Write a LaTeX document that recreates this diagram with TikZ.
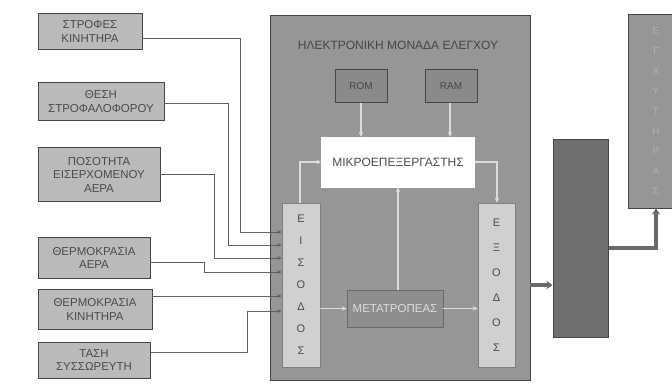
\documentclass[tikz,border=0pt]{standalone}
\usepackage{fontspec}
\setmainfont{Liberation Sans}
\usetikzlibrary{arrows.meta}
\definecolor{boxfill}{RGB}{186,186,186}
\definecolor{ecufill}{RGB}{150,150,150}
\definecolor{iofill}{RGB}{208,208,208}
\definecolor{darkfill}{RGB}{112,112,112}
\definecolor{edge}{RGB}{70,70,70}
\definecolor{txt}{RGB}{75,75,75}
\definecolor{wire}{RGB}{95,95,95}
\definecolor{lightw}{RGB}{220,220,220}
\definecolor{thick}{RGB}{105,105,105}
\begin{document}
\begin{tikzpicture}[x=1pt,y=-1pt,
  sensor/.style={draw=edge, line width=0.8pt, fill=boxfill, text=txt,
    font=\fontsize{11.5}{13.5}\selectfont, align=center, inner sep=0pt},
  ecu/.style={draw=edge, line width=0.8pt, fill=ecufill, inner sep=0pt},
  membox/.style={draw=edge, line width=0.8pt, fill=ecufill!92!black, text=edge,
    font=\fontsize{10}{12}\selectfont, inner sep=0pt},
  cpu/.style={fill=white, draw=white, text=txt, font=\fontsize{12}{14}\selectfont, inner sep=0pt},
  iobox/.style={fill=iofill, draw=edge!70, line width=0.5pt, text=txt, align=center, inner sep=0pt},
  convbox/.style={fill=ecufill!95!black, draw=edge!80, line width=0.6pt, text=lightw,
    font=\fontsize{11.5}{13}\selectfont, inner sep=0pt},
  darkbox/.style={draw=edge, line width=1pt, fill=darkfill, inner sep=0pt},
  actbox/.style={draw=edge, line width=1pt, fill=ecufill, text=lightw!80!black, align=center, inner sep=0pt,
    font=\fontsize{10}{20}\selectfont},
  wire/.style={draw=wire, line width=0.7pt, -{Stealth[length=4.5pt,width=3.5pt]}},
  inner/.style={draw=lightw, line width=1.3pt, -{Stealth[length=5pt,width=4.5pt]}},
  heavy/.style={draw=thick, line width=3.5pt, -{Stealth[length=6pt,width=8.5pt]}}
]
\clip (0,0) rectangle (672,385);
\fill[white] (0,0) rectangle (672,385);

% sensors
\node[sensor, minimum width=104pt, minimum height=36pt] (s1) at (90,31.5) {ΣΤΡΟΦΕΣ\\ΚΙΝΗΤΗΡΑ};
\node[sensor, minimum width=126pt, minimum height=38pt] (s2) at (101,101.5) {ΘΕΣΗ\\ΣΤΡΟΦΑΛΟΦΟΡΟΥ};
\node[sensor, minimum width=122pt, minimum height=54pt] (s3) at (99,174.5) {ΠΟΣΟΤΗΤΑ\\ΕΙΣΕΡΧΟΜΕΝΟΥ\\ΑΕΡΑ};
\node[sensor, minimum width=112pt, minimum height=41pt] (s4) at (94,258) {ΘΕΡΜΟΚΡΑΣΙΑ\\ΑΕΡΑ};
\node[sensor, minimum width=114pt, minimum height=40pt] (s5) at (95,309.5) {ΘΕΡΜΟΚΡΑΣΙΑ\\ΚΙΝΗΤΗΡΑ};
\node[sensor, minimum width=112pt, minimum height=36pt] (s6) at (94,360) {ΤΑΣΗ\\ΣΥΣΣΩΡΕΥΤΗ};

% ECU
\node[ecu, minimum width=260pt, minimum height=365pt] (ecu) at (400,197.5) {};
\node[text=edge, font=\fontsize{12}{14}\selectfont] (ttl) at (398,45) {ΗΛΕΚΤΡΟΝΙΚΗ ΜΟΝΑΔΑ ΕΛΕΓΧΟΥ};
\node[membox, minimum width=52pt, minimum height=33pt] (rom) at (361,86) {ROM};
\node[membox, minimum width=52pt, minimum height=33pt] (ram) at (451,86) {RAM};
\node[cpu, minimum width=153pt, minimum height=50pt] (cpu) at (398,162) {ΜΙΚΡΟΕΠΕΞΕΡΓΑΣΤΗΣ};
\node[iobox, minimum width=38pt, minimum height=164pt, font=\fontsize{11}{22}\selectfont] (in) at (301,285) {Ε\\Ι\\Σ\\Ο\\Δ\\Ο\\Σ};
\node[iobox, minimum width=37pt, minimum height=164pt, font=\fontsize{11}{25}\selectfont] (out) at (496.5,285) {Ε\\Ξ\\Ο\\Δ\\Ο\\Σ};
\node[convbox, minimum width=96pt, minimum height=37pt] (conv) at (395,308.5) {ΜΕΤΑΤΡΟΠΕΑΣ};

% right side
\node[darkbox, minimum width=55pt, minimum height=197pt] (amp) at (580.5,238.5) {};
\node[actbox, minimum width=56pt, minimum height=193pt] (act) at (656,111.5) {Ε\\Γ\\Χ\\Υ\\Τ\\Η\\Ρ\\Α\\Σ};

% sensor wires
\draw[wire] ([yshift=-6.5pt]s1.east) -| (240,232) -- (in.west |- 0,232);
\draw[wire] ([yshift=-1.5pt]s2.east) -| (228,245) -- (in.west |- 0,245);
\draw[wire] (s3.east) -| (214,258) -- (in.west |- 0,258);
\draw[wire] ([yshift=-4pt]s4.east) -| (204,272) -- (in.west |- 0,272);
\draw[wire] (s5.east |- 0,296) -- (in.west |- 0,296);
\draw[wire] ([yshift=8pt]s6.east) -| (247,311) -- (in.west |- 0,311);

% inner arrows
\draw[inner] (rom.south) -- (rom.south |- cpu.north);
\draw[inner] (ram.south -| 450,0) -- (450,0 |- cpu.north);
\draw[inner] (in.north -| 300,0) |- (cpu.west);
\draw[inner] (cpu.east) -| (out.north -| 497,0);
\draw[inner] (conv.north -| 398,0) -- (398,0 |- cpu.south);
\draw[inner] (in.east |- conv.west) -- (conv.west);
\draw[inner] (conv.east) -- (out.west |- conv.east);

% heavy arrows
\draw[heavy] (ecu.east |- 0,285) -- (amp.west |- 0,285);
\draw[heavy] (amp.east |- 0,248) -| (act.south);
\end{tikzpicture}
\end{document}
